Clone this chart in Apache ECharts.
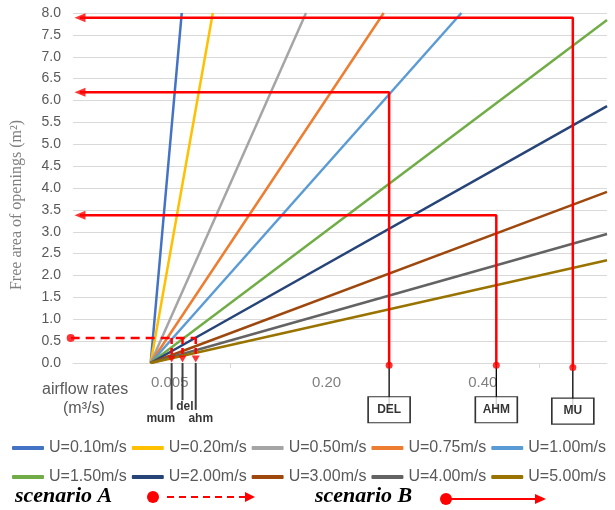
<!DOCTYPE html>
<html>
<head>
<meta charset="utf-8">
<script src="https://cdn.jsdelivr.net/npm/echarts@6/dist/echarts.min.js"></script>
<style>
  html, body { margin: 0; padding: 0; background: #fff; }
  #chart { width: 615px; height: 510px; }
</style>
</head>
<body>
<div id="chart"></div>
<script>
  // air speed lines
  var speedNames = ['U=0.10m/s', 'U=0.20m/s', 'U=0.50m/s', 'U=0.75m/s', 'U=1.00m/s',
    'U=1.50m/s', 'U=2.00m/s', 'U=3.00m/s', 'U=4.00m/s', 'U=5.00m/s'];
  var speedColors = ['#4472c4', '#ffc000', '#a5a5a5', '#ed7d31', '#5b9bd5',
    '#70ad47', '#264478', '#9e480e', '#636363', '#997300'];
  // where each line leaves the plot
  var endX = [0.8, 1.6, 4.0, 6.0, 8.0, 11.75, 11.75, 11.75, 11.75, 11.75];
  var endY = [8, 8, 8, 8, 8, 7.84, 5.87, 3.91, 2.95, 2.35];

  var xTickValues = [0.49, 4.53, 8.55];
  var xTickLabels = ['0.005', '0.20', '0.40'];
  var xMarkValues = [2.04, 10.0];

  // scenario B
  var bNames = ['DEL', 'AHM', 'MU'];
  var bX = [6.14, 8.9, 10.87];
  var bArea = [6.19, 3.38, 7.89];
  var bDotY = [-0.05, -0.05, -0.1];
  var bBoxY = [-1.07, -1.07, -1.1];
  var arrowX = -1.82;

  // scenario A
  var aNames = ['mum', 'del', 'ahm'];
  var aX = [0.54, 0.82, 1.16];
  var aArea = 0.57;
  var aStartX = -2.06;
  var aLineEnd = [-1.07, -0.85, -1.07];
  var aLabelX = [0.26, 0.88, 1.29];
  var aLabelY = [-1.28, -1.0, -1.28];

  var RED = '#ff0000';
  var myChart = echarts.init(document.getElementById('chart'));

  var series = [];
  speedNames.forEach(function (n, i) {
    series.push({
      name: n,
      type: 'line',
      data: [[0, 0], [endX[i], endY[i]]],
      showSymbol: false,
      color: speedColors[i],
      lineStyle: { width: 2.5, color: speedColors[i] },
      z: 2
    });
  });

  function seg(pts, color, width, dash, z) {
    series.push({
      type: 'line',
      data: pts,
      showSymbol: false,
      clip: false,
      silent: true,
      lineStyle: { width: width, color: color, type: dash || 'solid' },
      z: z || 5
    });
  }

  // scenario B paths
  bNames.forEach(function (n, i) {
    seg([[bX[i], bDotY[i]], [bX[i], bBoxY[i]]], '#000', 1.3, null, 4);
    seg([[bX[i], bDotY[i]], [bX[i], bArea[i]], [arrowX, bArea[i]]], RED, 2.5);
  });
  // scenario A paths
  aNames.forEach(function (n, i) {
    seg([[aX[i], 0], [aX[i], aLineEnd[i]]], '#404040', 2, null, 4);
    seg([[aX[i], aArea], [aX[i], 0.16]], RED, 2.5, [6, 4]);
  });
  seg([[aStartX, aArea], [aX[2], aArea]], RED, 2.5, [9, 6]);

  series.push({
    type: 'scatter', clip: false, silent: true, z: 6,
    symbol: 'circle', symbolSize: 7,
    itemStyle: { color: RED },
    data: bNames.map(function (n, i) { return [bX[i], bDotY[i]]; }).concat([
      { value: [aStartX, aArea], symbolSize: 8 }
    ])
  });
  series.push({
    type: 'scatter', clip: false, silent: true, z: 6,
    symbol: 'triangle', symbolSize: [9, 11], symbolRotate: 90,
    itemStyle: { color: RED },
    data: bArea.map(function (a) { return [arrowX, a]; })
  });
  series.push({
    type: 'scatter', clip: false, silent: true, z: 6,
    symbol: 'triangle', symbolSize: [8, 7], symbolRotate: 180,
    itemStyle: { color: RED },
    data: aX.map(function (x) { return [x, 0.09]; })
  });
  series.push({
    type: 'scatter', clip: false, silent: true, z: 7,
    symbol: 'rect', symbolSize: [42, 26],
    itemStyle: { color: '#fff', borderColor: '#000', borderWidth: 1.3 },
    label: {
      show: true, position: 'inside', color: '#000', fontWeight: 'bold',
      fontSize: 12, fontFamily: 'Liberation Sans',
      formatter: function (p) { return bNames[p.dataIndex]; }
    },
    data: bNames.map(function (n, i) { return [bX[i], bBoxY[i]]; })
  });
  series.push({
    type: 'scatter', clip: false, silent: true, z: 7,
    symbolSize: 1,
    itemStyle: { color: 'transparent' },
    label: {
      show: true, position: 'inside', color: '#000', fontWeight: 'bold',
      fontSize: 12, fontFamily: 'Liberation Sans',
      formatter: function (p) { return aNames[p.dataIndex]; }
    },
    data: aNames.map(function (n, i) { return [aLabelX[i], aLabelY[i]]; })
  });

  var legendBase = {
    left: 12, itemWidth: 32, itemHeight: 4, itemGap: 5, padding: 0,
    icon: 'roundRect',
    textStyle: { fontSize: 16, color: '#595959', fontFamily: 'Liberation Sans' }
  };

  var option = {
    animation: false,
    grid: { left: 73, right: 8, top: 13, bottom: 147, containLabel: false, outerBoundsMode: 'none' },
    legend: [
      Object.assign({ top: 440, data: speedNames.slice(0, 5) }, legendBase),
      Object.assign({ top: 469, data: speedNames.slice(5) }, legendBase)
    ],
    xAxis: {
      type: 'value', min: -2, max: 11.75,
      splitLine: { show: false },
      axisLine: { show: true, lineStyle: { color: '#d9d9d9', width: 1 } },
      axisTick: { show: true, customValues: xMarkValues, length: 5, lineStyle: { color: '#d9d9d9' } },
      axisLabel: {
        customValues: xTickValues, margin: 12,
        color: '#808080', fontSize: 15, fontFamily: 'Liberation Sans',
        formatter: function (v) {
          var k = 0;
          xTickValues.forEach(function (t, i) { if (Math.abs(t - v) < Math.abs(xTickValues[k] - v)) k = i; });
          return xTickLabels[k];
        }
      }
    },
    yAxis: {
      type: 'value', min: 0, max: 8, interval: 0.5,
      name: 'Free area of openings (m²)',
      nameLocation: 'middle', nameGap: 48,
      nameTextStyle: { fontFamily: 'Liberation Serif', fontSize: 16, color: '#808080', padding: [0, 34, 0, 0] },
      axisLine: { show: false },
      axisTick: { show: false },
      splitLine: { lineStyle: { color: '#d9d9d9', width: 1 } },
      axisLabel: {
        margin: 12, color: '#595959', fontSize: 14, fontFamily: 'Liberation Sans',
        formatter: function (v) { return v.toFixed(1); }
      }
    },
    graphic: [
      { type: 'text', left: 42, top: 382,
        style: { text: 'airflow rates', fontSize: 16, fontFamily: 'Liberation Sans', fill: '#595959' } },
      { type: 'text', left: 63, top: 401,
        style: { text: '(m³/s)', fontSize: 16, fontFamily: 'Liberation Sans', fill: '#595959' } },
      { type: 'text', left: 15, top: 485,
        style: { text: 'scenario A', fontSize: 22, fontWeight: 'bold', fontStyle: 'italic', fontFamily: 'Liberation Serif', fill: '#000' } },
      { type: 'circle', shape: { cx: 153, cy: 497, r: 6 }, style: { fill: RED } },
      { type: 'line', shape: { x1: 167, y1: 497, x2: 246, y2: 497 }, style: { stroke: RED, lineWidth: 2, lineDash: [7, 5] } },
      { type: 'polygon', shape: { points: [[245, 492], [255, 497], [245, 502]] }, style: { fill: RED } },
      { type: 'text', left: 315, top: 485,
        style: { text: 'scenario B', fontSize: 22, fontWeight: 'bold', fontStyle: 'italic', fontFamily: 'Liberation Serif', fill: '#000' } },
      { type: 'circle', shape: { cx: 446, cy: 499, r: 6 }, style: { fill: RED } },
      { type: 'line', shape: { x1: 450, y1: 499, x2: 536, y2: 499 }, style: { stroke: RED, lineWidth: 2 } },
      { type: 'polygon', shape: { points: [[535, 494], [546, 499], [535, 504]] }, style: { fill: RED } }
    ],
    series: series
  };

  myChart.setOption(option);
</script>
</body>
</html>
